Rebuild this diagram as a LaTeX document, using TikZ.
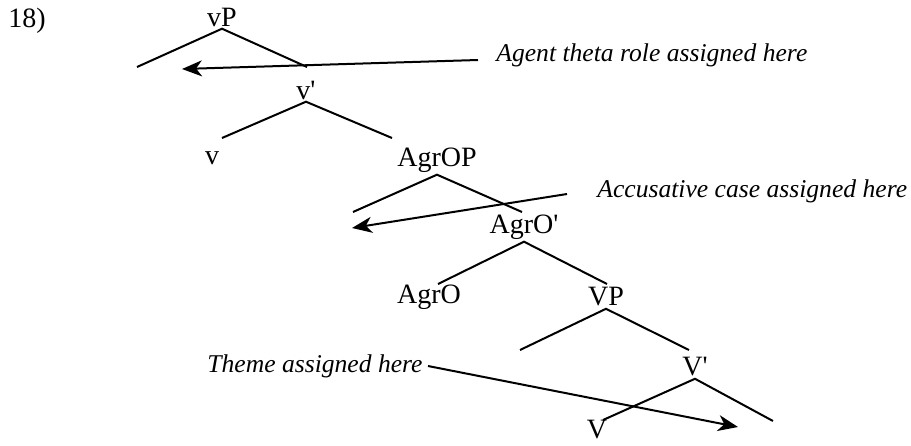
\documentclass[tikz,border=0pt]{standalone}
\usepackage{fontspec}
\setmainfont{Liberation Serif}
\usetikzlibrary{arrows.meta}

\begin{document}
\begin{tikzpicture}[
    x=0.5pt, y=-0.5pt,
    cat/.style={inner sep=1pt, font=\fontsize{14}{16}\selectfont},
    note/.style={inner sep=1pt, font=\fontsize{12.8}{15}\selectfont\itshape},
    branch/.style={line width=1pt},
    pointer/.style={-{Stealth[length=10pt, width=8pt, inset=3pt]}, line width=1pt}
]
\useasboundingbox (0,0) rectangle (911,445);

\node[cat] (num) at (27,21) {18)};

% tree labels
\node[cat] (vP) at (222,17) {vP};
\node[cat] (vbar) at (306,90) {v\textquotesingle};
\node[cat] (v) at (212,158) {v};
\node[cat] (AgrOP) at (437,160) {AgrOP};
\node[cat] (AgrObar) at (524,227) {AgrO\textquotesingle};
\node[cat] (AgrO) at (429,297) {AgrO};
\node[cat] (VP) at (606,297) {VP};
\node[cat] (Vbar) at (695,367) {V\textquotesingle};
\node[cat] (V) at (597,430) {V};

% branch ends
\coordinate (vPl) at (137,67);
\coordinate (vPr) at (307,67);
\coordinate (vbarl) at (222,138);
\coordinate (vbarr) at (392,138);
\coordinate (AgrOPl) at (353,212);
\coordinate (AgrOPr) at (522,212);
\coordinate (AgrObarl) at (438,284);
\coordinate (AgrObarr) at (607,284);
\coordinate (VPl) at (520,350);
\coordinate (VPr) at (689,350);
\coordinate (Vbarl) at (603,420);
\coordinate (Vbarr) at (773,421);

\draw[branch] (vPl) -- (vP.south) -- (vPr);
\draw[branch] (vbarl) -- (vbar.south) -- (vbarr);
\draw[branch] (AgrOPl) -- (AgrOP.south) -- (AgrOPr);
\draw[branch] (AgrObarl) -- (AgrObar.south) -- (AgrObarr);
\draw[branch] (VPl) -- (VP.south) -- (VPr);
\draw[branch] (Vbarl) -- (Vbar.south) -- (Vbarr);

% annotations
\node[note, anchor=west] (agent) at (494,55) {Agent theta role assigned here};
\node[note, anchor=west] (acc) at (595,191) {Accusative case assigned here};
\node[note, anchor=east] (theme) at (425,366) {Theme assigned here};

\coordinate (agenttip) at (182,69);
\coordinate (acctip) at (352,228);
\coordinate (themetip) at (738,427);

\draw[pointer] ([xshift=-8pt,yshift=-2.5pt]agent.west) -- (agenttip);
\draw[pointer] ([xshift=-14pt,yshift=-1.5pt]acc.west) -- (acctip);
\draw[pointer] ([xshift=1.5pt]theme.east) -- (themetip);

\end{tikzpicture}
\end{document}
